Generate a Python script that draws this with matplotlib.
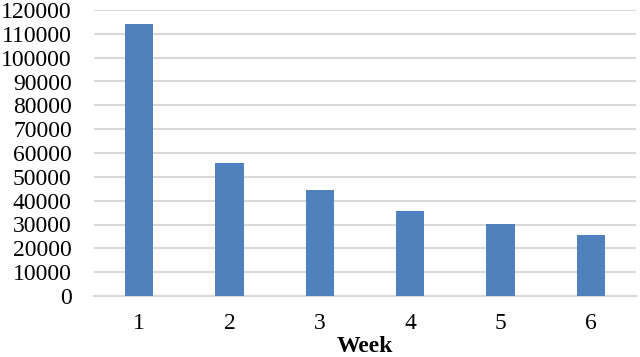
import matplotlib.pyplot as plt

# dati
settimane = ["1", "2", "3", "4", "5", "6"]
valori = [114000, 56000, 44500, 35500, 30300, 25400]
tick_y = list(range(0, 120001, 10000))

plt.rcParams["font.family"] = ["Liberation Serif", "DejaVu Serif"]

fig = plt.figure(figsize=(6.4, 3.57), dpi=100)
ax = fig.add_axes([94 / 640, 1 - 296 / 357, 542 / 640, 286 / 357])

pos = list(range(len(settimane)))
ax.bar(pos, valori, width=0.31, color="#4F81BD", zorder=3)

ax.set_xlim(-0.5, len(settimane) - 0.5)
ax.set_ylim(0, 120000)
ax.set_yticks(tick_y)
ax.set_yticklabels([str(v) for v in tick_y], fontsize=17)
ax.set_xticks(pos)
ax.set_xticklabels(settimane, fontsize=17)
ax.tick_params(length=0)
ax.tick_params(axis="y", pad=16)
ax.tick_params(axis="x", pad=12)

ax.grid(axis="y", color="#D9D9D9", linewidth=1.5, zorder=0)
for s in ["top", "right", "left"]:
    ax.spines[s].set_visible(False)
ax.spines["bottom"].set_color("#D9D9D9")
ax.spines["bottom"].set_linewidth(1.5)

ax.set_xlabel("Week", fontsize=17, fontweight="bold", labelpad=2)

fig.savefig("out.png", dpi=100)
